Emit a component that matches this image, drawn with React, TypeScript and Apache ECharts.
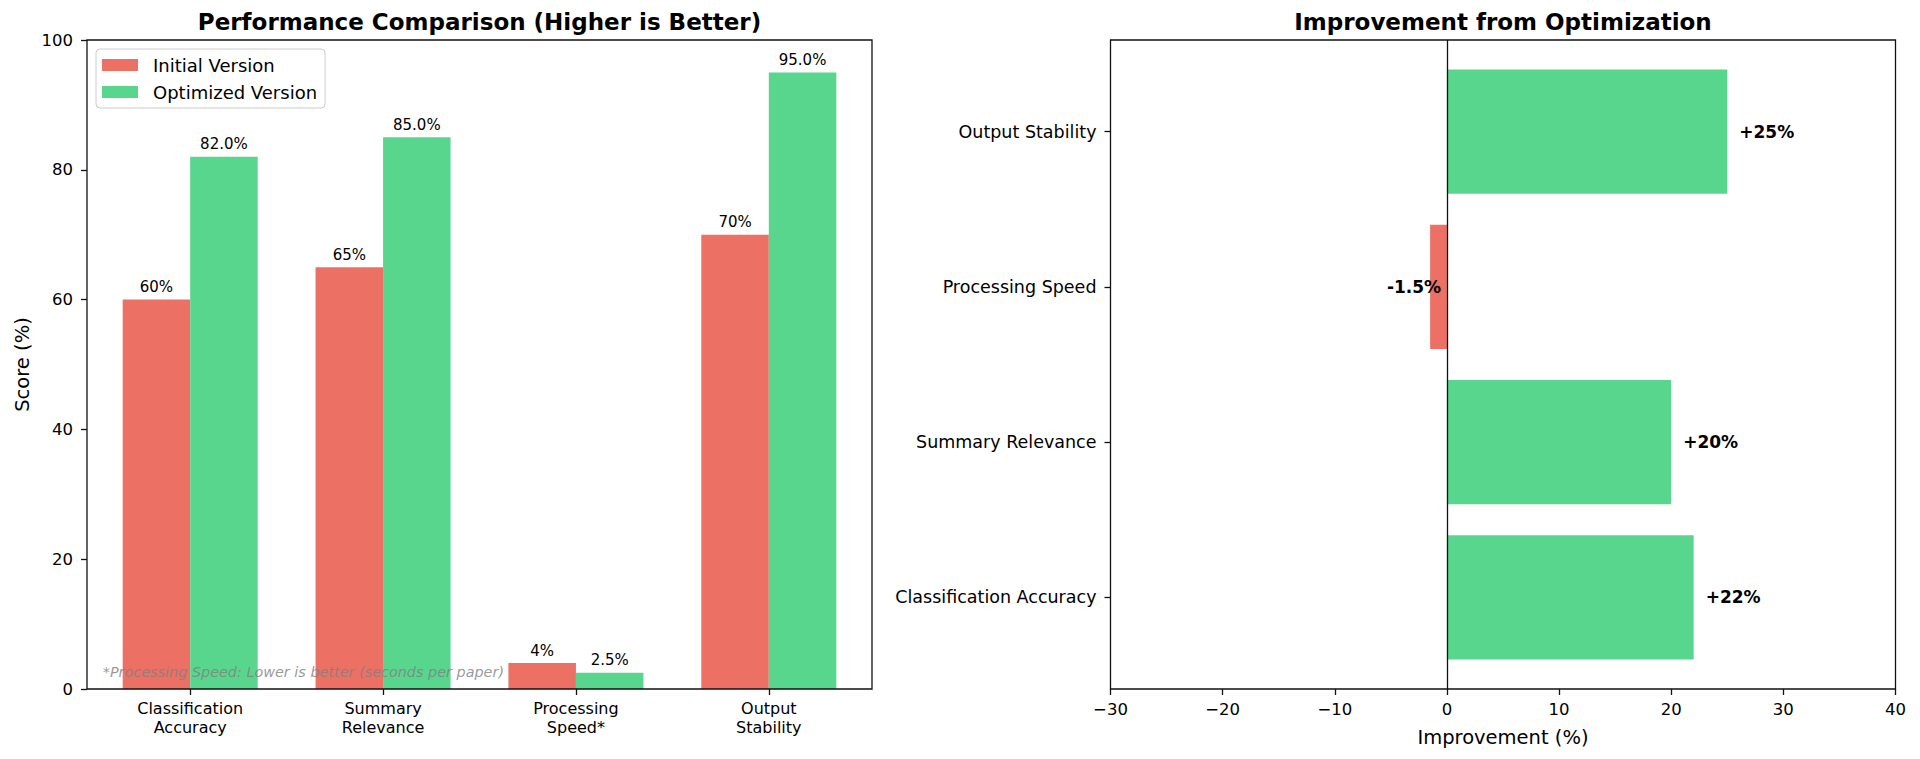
import React, { useEffect, useRef } from 'react';
import * as echarts from 'echarts';

const leftCategories = ['Classification\nAccuracy', 'Summary\nRelevance', 'Processing\nSpeed*', 'Output\nStability'];
const initialScores = [60, 65, 4, 70];
const optimizedScores = [82, 85, 2.5, 95];

const improvementCategories = ['Classification Accuracy', 'Summary Relevance', 'Processing Speed', 'Output Stability'];
const improvements = [22, 20, -1.5, 25];

const leftTitle = 'Performance Comparison (Higher is Better)';
const rightTitle = 'Improvement from Optimization';
const footnote = '*Processing Speed: Lower is better (seconds per paper)';

const FONT = '"DejaVu Sans", sans-serif';
const RED = '#ec7063';
const GREEN = '#58d68d';
const INK = '#111111';

export default function App() {
  const ref = useRef<HTMLDivElement>(null);

  useEffect(() => {
    if (!ref.current) return;
    const chart = echarts.init(ref.current, undefined, { renderer: 'svg' });

    const tick = { show: true, length: 6, inside: false, lineStyle: { color: INK, width: 1.3 } };
    const minus = (v: number) => (v < 0 ? '\u2212' + Math.abs(v) : String(v));

    const option: any = {
      animation: false,
      textStyle: { fontFamily: FONT },
      graphic: [
        {
          type: 'text', x: 479.5, y: 22, z: 100,
          style: { text: leftTitle, fontSize: 23, fontWeight: 'bold', fontFamily: FONT, fill: '#000', align: 'center', verticalAlign: 'middle' },
        },
        {
          type: 'text', x: 1503, y: 22, z: 100,
          style: { text: rightTitle, fontSize: 23, fontWeight: 'bold', fontFamily: FONT, fill: '#000', align: 'center', verticalAlign: 'middle' },
        },
        {
          type: 'text', x: 102.7, y: 679, z: 100,
          style: { text: footnote, fontSize: 14.4, fontStyle: 'italic', fontFamily: FONT, fill: '#808080', opacity: 0.8, align: 'left', verticalAlign: 'bottom' },
        },
      ],
      legend: {
        data: ['Initial Version', 'Optimized Version'],
        orient: 'vertical',
        left: 96,
        top: 49,
        itemWidth: 36,
        itemHeight: 12,
        itemGap: 9,
        padding: [7, 8, 7, 6],
        borderColor: '#cccccc',
        borderWidth: 1,
        borderRadius: 4,
        backgroundColor: 'rgba(255,255,255,0.8)',
        selectedMode: false,
        icon: 'rect',
        textStyle: { fontSize: 18, color: '#000', fontFamily: FONT, padding: [0, 0, 0, 10] },
        z: 20,
      },
      grid: [
        { left: 93.75, top: 40, width: 771.5, height: 649 },
        { left: 87, top: 40, width: 785, height: 649, show: true, borderColor: INK, borderWidth: 1.3, backgroundColor: 'transparent', z: 5 },
        { left: 1110.5, top: 54, width: 785, height: 621 },
        { left: 1110.5, top: 40, width: 785, height: 649, show: true, borderColor: INK, borderWidth: 1.3, backgroundColor: 'transparent', z: 5 },
      ],
      xAxis: [
        {
          type: 'category', gridIndex: 0, data: leftCategories,
          axisLine: { show: false, onZero: false },
          axisTick: { ...tick, alignWithLabel: true },
          axisLabel: { fontSize: 16, color: '#000', fontFamily: FONT, lineHeight: 19, margin: 10, interval: 0 },
          splitLine: { show: false },
        },
        { type: 'value', gridIndex: 1, show: false, min: 0, max: 1 },
        {
          type: 'value', gridIndex: 2, min: -30, max: 40, interval: 10, offset: 14,
          name: 'Improvement (%)', nameLocation: 'middle', nameGap: 38,
          nameTextStyle: { fontSize: 19.5, color: '#000', fontFamily: FONT },
          axisLine: { show: false, onZero: false },
          axisTick: tick,
          axisLabel: { fontSize: 16.5, color: '#000', fontFamily: FONT, margin: 12, formatter: minus },
          splitLine: { show: false },
        },
        { type: 'value', gridIndex: 3, show: false, min: -30, max: 40 },
      ],
      yAxis: [
        {
          type: 'value', gridIndex: 0, min: 0, max: 100, interval: 20, offset: 6.75,
          name: 'Score (%)', nameLocation: 'middle', nameGap: 55,
          nameTextStyle: { fontSize: 19.5, color: '#000', fontFamily: FONT },
          axisLine: { show: false, onZero: false },
          axisTick: tick,
          axisLabel: { fontSize: 16.5, color: '#000', fontFamily: FONT, margin: 14 },
          splitLine: { show: false },
        },
        { type: 'value', gridIndex: 1, show: false, min: 0, max: 1 },
        {
          type: 'category', gridIndex: 2, data: improvementCategories,
          axisLine: { show: false, onZero: false },
          axisTick: { ...tick, alignWithLabel: true },
          axisLabel: { fontSize: 17.5, color: '#000', fontFamily: FONT, margin: 14, interval: 0 },
          splitLine: { show: false },
        },
        { type: 'value', gridIndex: 3, show: false, min: 0, max: 1 },
      ],
      series: [
        {
          type: 'bar', name: 'Initial Version', xAxisIndex: 0, yAxisIndex: 0,
          data: initialScores, barWidth: '35%', barGap: '0%',
          itemStyle: { color: RED },
          label: { show: true, position: 'top', distance: 5, fontSize: 15, color: '#000', fontFamily: FONT, formatter: (p: any) => `${p.value}%` },
        },
        {
          type: 'bar', name: 'Optimized Version', xAxisIndex: 0, yAxisIndex: 0,
          data: optimizedScores, barWidth: '35%', barGap: '0%',
          itemStyle: { color: GREEN },
          label: { show: true, position: 'top', distance: 5, fontSize: 15, color: '#000', fontFamily: FONT, formatter: (p: any) => `${Number(p.value).toFixed(1)}%` },
        },
        {
          type: 'bar', name: 'Improvement', xAxisIndex: 2, yAxisIndex: 2,
          barWidth: '80%',
          data: improvements.map((v) => ({
            value: v,
            itemStyle: { color: v >= 0 ? GREEN : RED },
            label: v >= 0 ? { position: 'right', distance: 12 } : { position: 'left', distance: 0, offset: [11, 0] },
          })),
          label: {
            show: true, fontSize: 17, fontWeight: 'bold', color: '#000', fontFamily: FONT,
            formatter: (p: any) => `${p.value > 0 ? '+' : ''}${p.value}%`,
          },
        },
        {
          type: 'line', name: 'zero', xAxisIndex: 3, yAxisIndex: 3, data: [], z: 6,
          markLine: {
            silent: true, symbol: ['none', 'none'], label: { show: false },
            lineStyle: { color: INK, width: 1.3, type: 'solid' },
            data: [{ xAxis: 0 }],
          },
        },
      ],
    };

    chart.setOption(option);
    return () => chart.dispose();
  }, []);

  return <div ref={ref} style={{ position: 'fixed', left: 0, top: 0, width: 1920, height: 759, background: '#fff' }} />;
}
